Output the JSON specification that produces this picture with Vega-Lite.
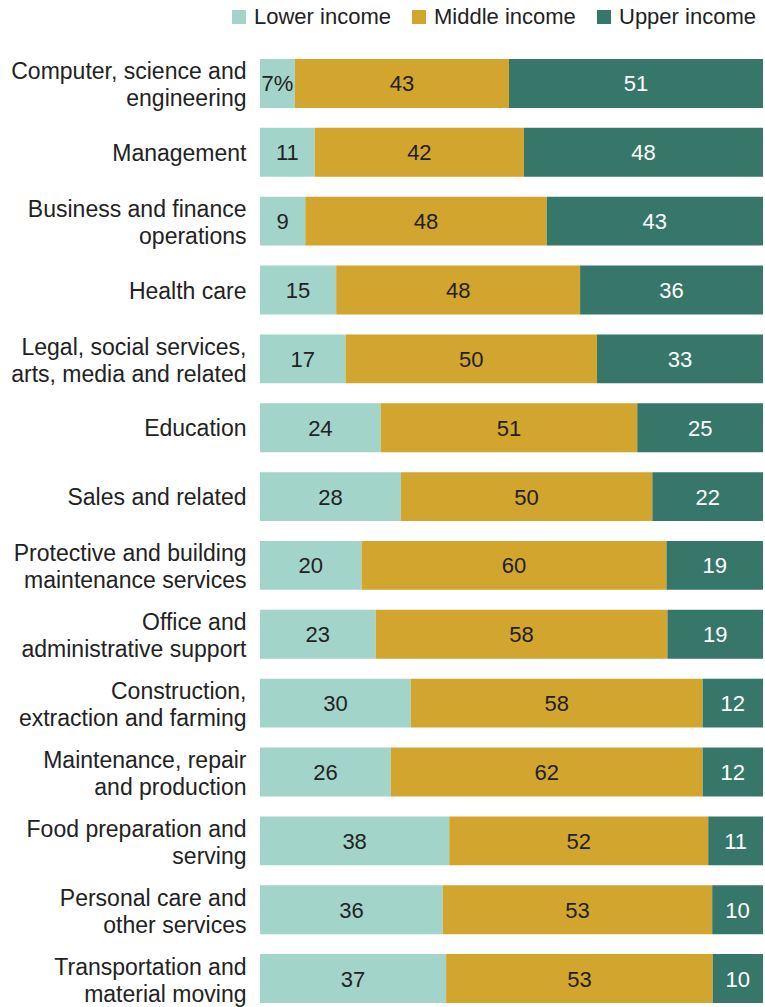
{
  "$schema": "https://vega.github.io/schema/vega-lite/v6.json",
  "width": 503,
  "height": 944,
  "autosize": {"type": "none"},
  "padding": {"left": 260, "top": 59, "right": 2, "bottom": 4},
  "background": "white",
  "config": {"font": "Liberation Sans", "view": {"stroke": null}},
  "data": {
    "values": [
      {"cat": "Computer, science and|engineering", "income": "Lower income", "ord": 1, "value": 7, "label": "7%"},
      {"cat": "Computer, science and|engineering", "income": "Middle income", "ord": 2, "value": 43, "label": "43"},
      {"cat": "Computer, science and|engineering", "income": "Upper income", "ord": 3, "value": 51, "label": "51"},
      {"cat": "Management", "income": "Lower income", "ord": 1, "value": 11, "label": "11"},
      {"cat": "Management", "income": "Middle income", "ord": 2, "value": 42, "label": "42"},
      {"cat": "Management", "income": "Upper income", "ord": 3, "value": 48, "label": "48"},
      {"cat": "Business and finance|operations", "income": "Lower income", "ord": 1, "value": 9, "label": "9"},
      {"cat": "Business and finance|operations", "income": "Middle income", "ord": 2, "value": 48, "label": "48"},
      {"cat": "Business and finance|operations", "income": "Upper income", "ord": 3, "value": 43, "label": "43"},
      {"cat": "Health care", "income": "Lower income", "ord": 1, "value": 15, "label": "15"},
      {"cat": "Health care", "income": "Middle income", "ord": 2, "value": 48, "label": "48"},
      {"cat": "Health care", "income": "Upper income", "ord": 3, "value": 36, "label": "36"},
      {"cat": "Legal, social services,|arts, media and related", "income": "Lower income", "ord": 1, "value": 17, "label": "17"},
      {"cat": "Legal, social services,|arts, media and related", "income": "Middle income", "ord": 2, "value": 50, "label": "50"},
      {"cat": "Legal, social services,|arts, media and related", "income": "Upper income", "ord": 3, "value": 33, "label": "33"},
      {"cat": "Education", "income": "Lower income", "ord": 1, "value": 24, "label": "24"},
      {"cat": "Education", "income": "Middle income", "ord": 2, "value": 51, "label": "51"},
      {"cat": "Education", "income": "Upper income", "ord": 3, "value": 25, "label": "25"},
      {"cat": "Sales and related", "income": "Lower income", "ord": 1, "value": 28, "label": "28"},
      {"cat": "Sales and related", "income": "Middle income", "ord": 2, "value": 50, "label": "50"},
      {"cat": "Sales and related", "income": "Upper income", "ord": 3, "value": 22, "label": "22"},
      {"cat": "Protective and building|maintenance services", "income": "Lower income", "ord": 1, "value": 20, "label": "20"},
      {"cat": "Protective and building|maintenance services", "income": "Middle income", "ord": 2, "value": 60, "label": "60"},
      {"cat": "Protective and building|maintenance services", "income": "Upper income", "ord": 3, "value": 19, "label": "19"},
      {"cat": "Office and|administrative support", "income": "Lower income", "ord": 1, "value": 23, "label": "23"},
      {"cat": "Office and|administrative support", "income": "Middle income", "ord": 2, "value": 58, "label": "58"},
      {"cat": "Office and|administrative support", "income": "Upper income", "ord": 3, "value": 19, "label": "19"},
      {"cat": "Construction,|extraction and farming", "income": "Lower income", "ord": 1, "value": 30, "label": "30"},
      {"cat": "Construction,|extraction and farming", "income": "Middle income", "ord": 2, "value": 58, "label": "58"},
      {"cat": "Construction,|extraction and farming", "income": "Upper income", "ord": 3, "value": 12, "label": "12"},
      {"cat": "Maintenance, repair|and production", "income": "Lower income", "ord": 1, "value": 26, "label": "26"},
      {"cat": "Maintenance, repair|and production", "income": "Middle income", "ord": 2, "value": 62, "label": "62"},
      {"cat": "Maintenance, repair|and production", "income": "Upper income", "ord": 3, "value": 12, "label": "12"},
      {"cat": "Food preparation and|serving", "income": "Lower income", "ord": 1, "value": 38, "label": "38"},
      {"cat": "Food preparation and|serving", "income": "Middle income", "ord": 2, "value": 52, "label": "52"},
      {"cat": "Food preparation and|serving", "income": "Upper income", "ord": 3, "value": 11, "label": "11"},
      {"cat": "Personal care and|other services", "income": "Lower income", "ord": 1, "value": 36, "label": "36"},
      {"cat": "Personal care and|other services", "income": "Middle income", "ord": 2, "value": 53, "label": "53"},
      {"cat": "Personal care and|other services", "income": "Upper income", "ord": 3, "value": 10, "label": "10"},
      {"cat": "Transportation and|material moving", "income": "Lower income", "ord": 1, "value": 37, "label": "37"},
      {"cat": "Transportation and|material moving", "income": "Middle income", "ord": 2, "value": 53, "label": "53"},
      {"cat": "Transportation and|material moving", "income": "Upper income", "ord": 3, "value": 10, "label": "10"}
    ]
  },
  "transform": [
    {"stack": "value", "groupby": ["cat"], "sort": [{"field": "ord", "order": "ascending"}], "offset": "normalize", "as": ["v0", "v1"]},
    {"calculate": "(datum.v0 + datum.v1) / 2", "as": "mid"}
  ],
  "encoding": {
    "y": {
      "field": "cat",
      "type": "nominal",
      "sort": [
        "Computer, science and|engineering",
        "Management",
        "Business and finance|operations",
        "Health care",
        "Legal, social services,|arts, media and related",
        "Education",
        "Sales and related",
        "Protective and building|maintenance services",
        "Office and|administrative support",
        "Construction,|extraction and farming",
        "Maintenance, repair|and production",
        "Food preparation and|serving",
        "Personal care and|other services",
        "Transportation and|material moving"
      ],
      "scale": {"paddingInner": 0.29, "paddingOuter": 0},
      "axis": {
        "title": null,
        "domain": false,
        "ticks": false,
        "labelPadding": 14,
        "labelFontSize": 23,
        "labelColor": "#222222",
        "labelLineHeight": 27,
        "labelLimit": 300,
        "labelOffset": {"condition": {"test": "indexof(datum.value, '|') >= 0", "value": -11}, "value": 1.5},
        "labelExpr": "split(datum.label, '|')"
      }
    }
  },
  "layer": [
    {
      "mark": {"type": "bar"},
      "encoding": {
        "x": {"field": "v0", "type": "quantitative", "scale": {"domain": [0, 1]}, "axis": null},
        "x2": {"field": "v1"},
        "color": {
          "field": "income",
          "type": "nominal",
          "scale": {"domain": ["Lower income", "Middle income", "Upper income"], "range": ["#a3d4c9", "#d2a52f", "#36776a"]},
          "legend": {
            "title": null,
            "orient": "none",
            "direction": "horizontal",
            "legendX": -32,
            "legendY": -53,
            "symbolType": "square",
            "symbolSize": 196,
            "symbolStrokeWidth": 0,
            "labelFontSize": 22,
            "labelColor": "#222222",
            "labelOffset": 4,
            "columnPadding": 17,
            "padding": 0
          }
        },
        "order": {"field": "ord", "type": "quantitative"}
      }
    },
    {
      "mark": {"type": "text", "fontSize": 22, "baseline": "middle", "align": "center", "dy": 1},
      "encoding": {
        "x": {"field": "mid", "type": "quantitative", "scale": {"domain": [0, 1]}},
        "text": {"field": "label"},
        "color": {"condition": {"test": "datum.income === 'Upper income'", "value": "#ffffff"}, "value": "#222222"}
      }
    }
  ]
}
